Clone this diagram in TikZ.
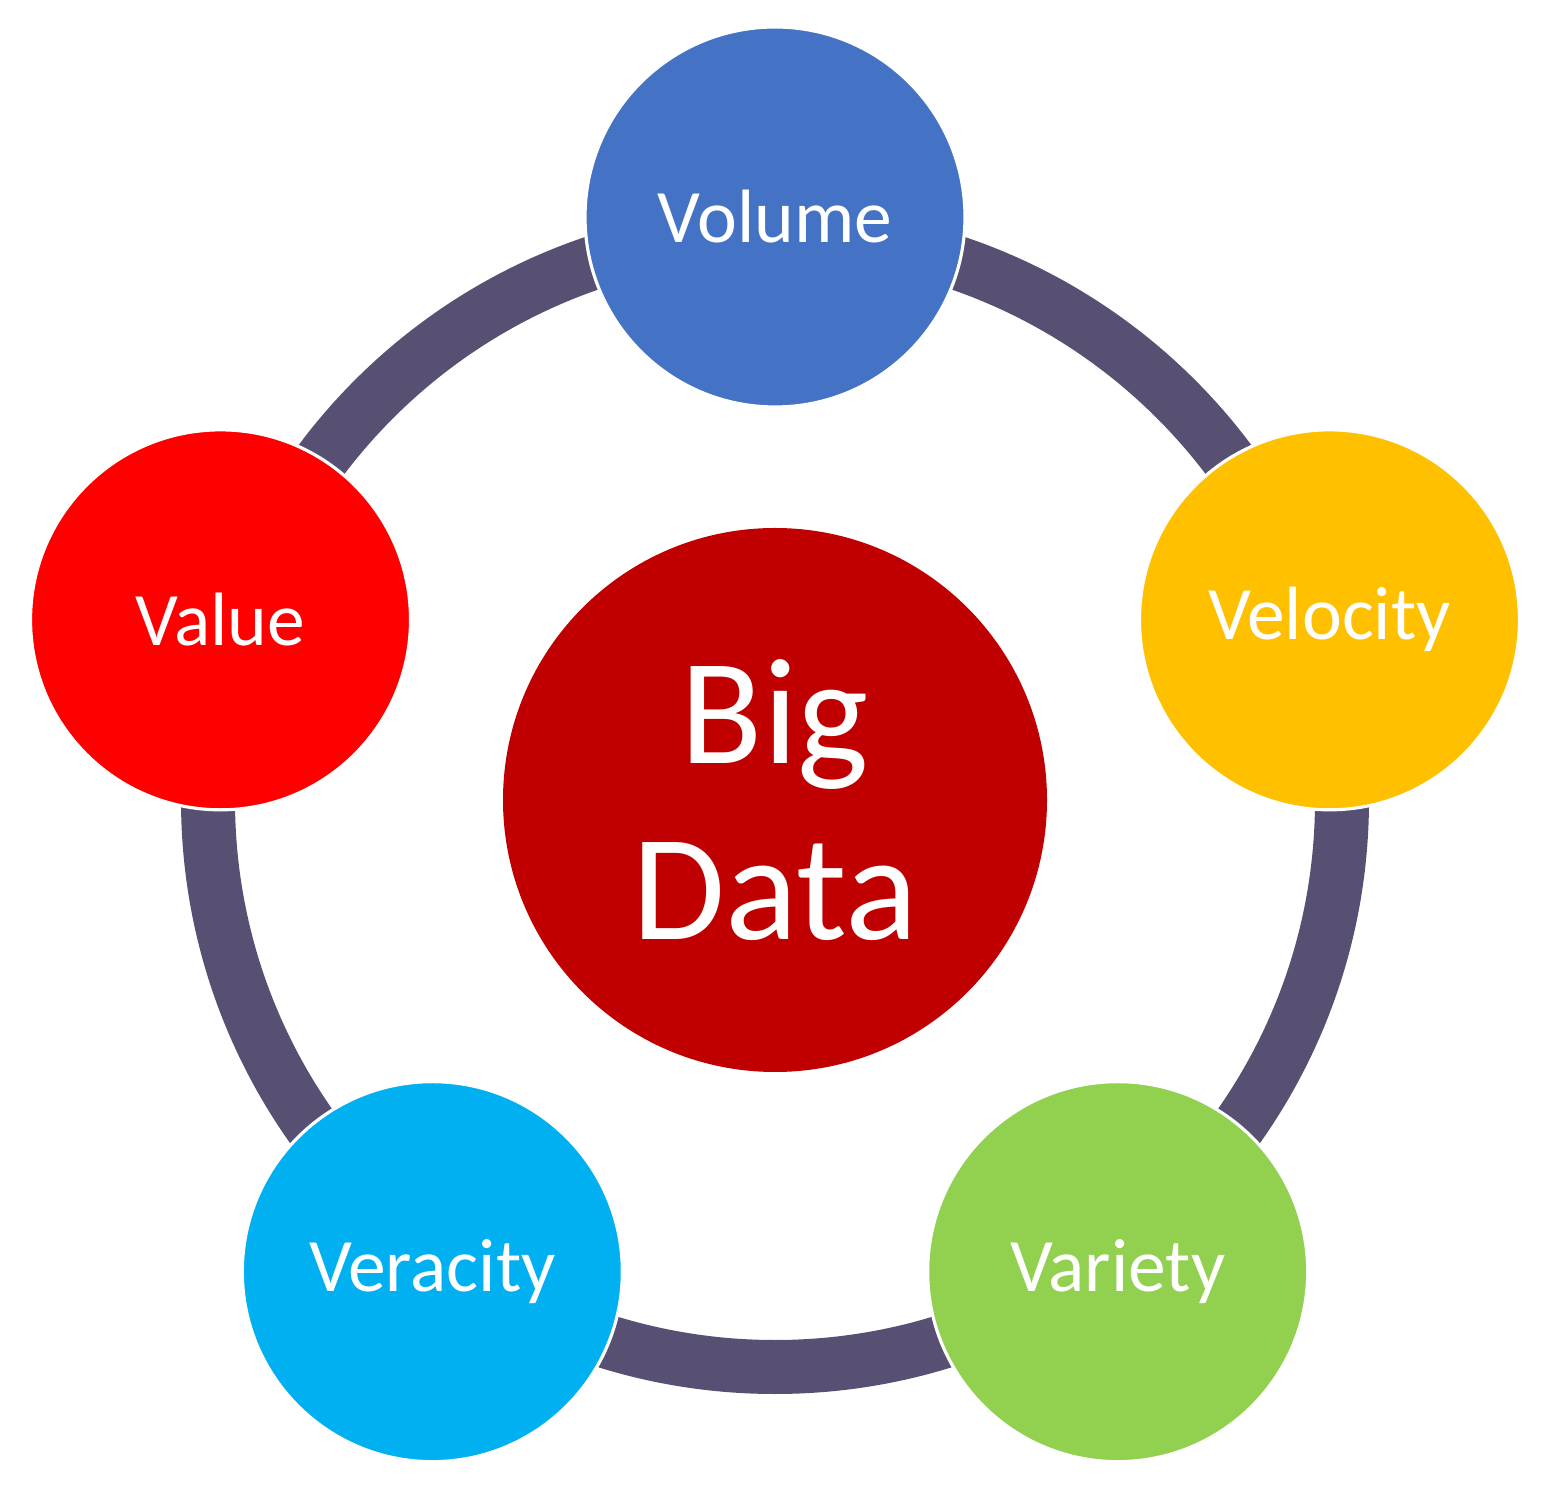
\documentclass[tikz,border=0pt]{standalone}
\usepackage{fontspec}
\setmainfont{Carlito}
\usepackage{xcolor}
\usetikzlibrary{calc}

\definecolor{ringgray}{RGB}{88,80,115}
\definecolor{volblue}{RGB}{68,114,196}
\definecolor{velyellow}{RGB}{255,192,0}
\definecolor{vargreen}{RGB}{146,208,80}
\definecolor{vercyan}{RGB}{0,176,240}
\definecolor{valred}{RGB}{255,0,0}
\definecolor{bigred}{RGB}{192,0,0}

\begin{document}
\begin{tikzpicture}[
  sat/.style={circle,draw=white,line width=0.9pt,minimum size=3.8cm,
              inner sep=0pt,text=white,font=\fontsize{21.5}{25}\selectfont},
  hub/.style={circle,fill=bigred,minimum size=5.44cm,inner sep=0pt,
              text=white,align=center,font=\fontsize{43}{50}\selectfont},
  ring/.style={draw=ringgray,line width=0.54cm},
]
\useasboundingbox (0,0) rectangle (15.5,14.92);
\coordinate (c) at (7.75,6.92);
\draw[ring] (c) circle (5.67);
\node[hub] (bigdata) at (c) {Big\\Data};
\node[sat,fill=volblue] (volume) at ($(c)+(90:5.83)$) {Volume};
\node[sat,fill=velyellow] (velocity) at ($(c)+(18:5.83)$) {Velocity};
\node[sat,fill=vargreen] (variety) at ($(c)+(-54:5.83)$) {Variety};
\node[sat,fill=vercyan] (veracity) at ($(c)+(-126:5.83)$) {Veracity};
\node[sat,fill=valred] (value) at ($(c)+(162:5.83)$) {Value};
\end{tikzpicture}
\end{document}
